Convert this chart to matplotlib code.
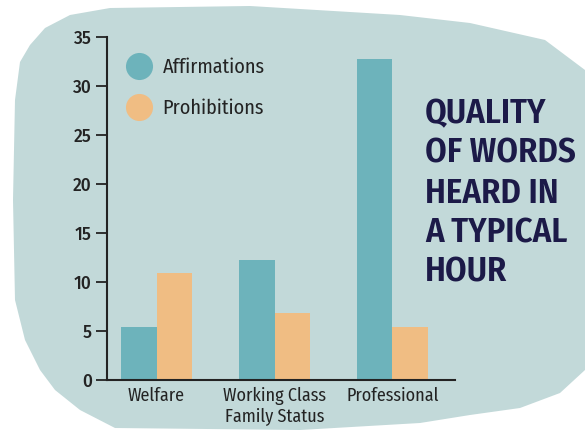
import matplotlib
matplotlib.use('Agg')
import matplotlib.pyplot as plt
import numpy as np
from matplotlib.patches import Polygon
from matplotlib.lines import Line2D

categories = ['Welfare', 'Working Class', 'Professional']
affirmations = [5.4, 12.2, 32.8]
prohibitions = [10.9, 6.8, 5.4]
series_names = ['Affirmations', 'Prohibitions']
yticks = [0, 5, 10, 15, 20, 25, 30, 35]
title = 'QUALITY\nOF WORDS\nHEARD IN\nA TYPICAL\nHOUR'

teal = '#6db3bb'
orange = '#f0bd83'
bg = '#c2d9d9'
dark = '#232323'
navy = '#1c1a48'
font = ['Fira Sans Condensed', 'DejaVu Sans']
tickfont = ['Fira Sans', 'DejaVu Sans']

W, H = 585, 430
fig = plt.figure(figsize=(W / 100, H / 100), dpi=100)
fig.patch.set_facecolor('white')

# rough painted backdrop (pixel outline, y measured from top)
blob = [(30, 45), (45, 28), (70, 15), (110, 8), (250, 6), (400, 15), (470, 23),
        (545, 40), (585, 70), (585, 370), (560, 393), (520, 408), (470, 415),
        (420, 423), (300, 430), (115, 428), (80, 410), (55, 390), (40, 370),
        (25, 340), (15, 300), (13, 200), (15, 100), (20, 62)]
blob = [(x / W, 1 - y / H) for x, y in blob]
fig.add_artist(Polygon(blob, closed=True, facecolor=bg, edgecolor='none',
                       transform=fig.transFigure, zorder=0))

ax = fig.add_axes([107 / W, 1 - 380 / H, (455 - 107) / W, (380 - 37) / H])
ax.set_facecolor('none')

x = np.arange(len(categories))
w = 0.3
ax.bar(x - w / 2, affirmations, w, color=teal)
ax.bar(x + w / 2, prohibitions, w, color=orange)

ax.set_xlim(-0.42, 2.53)
ax.set_ylim(0, 35)
ax.set_yticks(yticks, labels=[str(t) for t in yticks], fontsize=12.5,
              fontweight=500, family=tickfont, color=dark)
ax.set_xticks(x, labels=categories, fontsize=13, family=font, color=dark)
ax.set_xlabel('Family Status', fontsize=13, family=font, color=dark)
ax.xaxis.set_label_coords(0.482, -0.083)
ax.xaxis.label.set_va('top')
ax.tick_params(axis='y', length=8, width=1.3, color=dark, pad=3)
ax.tick_params(axis='x', length=0, pad=5)
for s in ['top', 'right']:
    ax.spines[s].set_visible(False)
for s in ['left', 'bottom']:
    ax.spines[s].set_color(dark)
    ax.spines[s].set_linewidth(1.5)

handles = [Line2D([], [], marker='o', linestyle='none', markersize=19.5,
                  markerfacecolor=c, markeredgecolor='none') for c in [teal, orange]]
ax.legend(handles, series_names, loc='upper left', bbox_to_anchor=(0.055, 0.941),
          frameon=False, labelspacing=1.1, handlelength=1.25, handletextpad=0.55,
          borderpad=0, borderaxespad=0,
          prop={'family': font, 'size': 14.5}, labelcolor=dark)

fig.text(425 / W, 1 - 97 / H, title, ha='left', va='top', fontsize=25,
         fontweight=600, family=font, color=navy, linespacing=1.23)

fig.savefig('out.png', dpi=100, facecolor=fig.get_facecolor())
